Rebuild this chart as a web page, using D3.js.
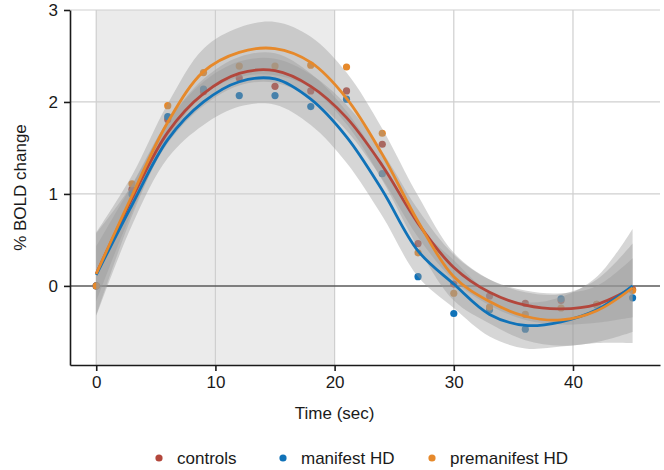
<!DOCTYPE html>
<html lang="en">
<head>
<meta charset="UTF-8">
<title>BOLD response</title>
<script src="https://d3js.org/d3.v7.min.js"></script>
<style>
  body { margin: 0; background: #fff; }
  svg { font-family: "Liberation Sans", Arial, sans-serif; }
</style>
</head>
<body>
<svg id="chart" width="664" height="470"></svg>
<script>
// time points (sec)
const times = [0, 3, 6, 9, 12, 15, 18, 21, 24, 27, 30, 33, 36, 39, 42, 45];

// observed group means
const controlsPts    = [0, 1.05, 1.81, 2.11, 2.26, 2.17, 2.12, 2.12, 1.54, 0.46, 0.02, -0.11, -0.19, -0.16, -0.20, -0.04];
const manifestPts    = [0, 1.00, 1.84, 2.14, 2.07, 2.07, 1.95, 2.03, 1.22, 0.10, -0.30, -0.26, -0.47, -0.14, -0.21, -0.13];
const premanifestPts = [0, 1.11, 1.96, 2.32, 2.39, 2.39, 2.40, 2.38, 1.66, 0.36, -0.08, -0.23, -0.31, -0.24, -0.20, -0.05];

// smoothed fits and their standard error
const controlsFit    = [0.13, 0.95, 1.67, 2.09, 2.31, 2.34, 2.17, 1.83, 1.31, 0.68, 0.20, -0.07, -0.21, -0.25, -0.20, -0.02];
const manifestFit    = [0.12, 0.88, 1.59, 2.00, 2.22, 2.25, 2.03, 1.62, 1.04, 0.38, 0.02, -0.31, -0.43, -0.39, -0.26, 0.00];
const premanifestFit = [0.13, 0.98, 1.78, 2.33, 2.54, 2.58, 2.43, 2.04, 1.43, 0.70, 0.10, -0.17, -0.33, -0.37, -0.27, -0.02];

const controlsSe    = [0.30, 0.15, 0.12, 0.13, 0.13, 0.13, 0.13, 0.14, 0.15, 0.15, 0.14, 0.14, 0.16, 0.17, 0.20, 0.32];
const manifestSe    = [0.45, 0.22, 0.20, 0.25, 0.27, 0.28, 0.28, 0.28, 0.28, 0.28, 0.26, 0.24, 0.25, 0.27, 0.36, 0.62];
const premanifestSe = [0.45, 0.22, 0.20, 0.25, 0.27, 0.29, 0.28, 0.28, 0.28, 0.28, 0.26, 0.24, 0.26, 0.28, 0.34, 0.48];

const groupNames = ['controls', 'manifest HD', 'premanifest HD'];
const groupColors = ['#b3473c', '#1072b8', '#e6892b'];

const xTicks = [0, 10, 20, 30, 40];
const yTicks = [0, 1, 2, 3];
const stimulus = [0, 20];

const groups = [
  { pts: controlsPts, fit: controlsFit, se: controlsSe },
  { pts: manifestPts, fit: manifestFit, se: manifestSe },
  { pts: premanifestPts, fit: premanifestFit, se: premanifestSe }
];

const svg = d3.select('#chart');
const plotLeft = 70, plotRight = 660, plotTop = 10, plotBottom = 365;

const x = d3.scaleLinear().domain([-2.2, 47.3]).range([plotLeft, plotRight]);
const y = d3.scaleLinear().domain([-0.86, 3]).range([plotBottom, plotTop]);

// stimulus block
svg.append('rect')
  .attr('x', x(stimulus[0]))
  .attr('y', plotTop)
  .attr('width', x(stimulus[1]) - x(stimulus[0]))
  .attr('height', plotBottom - plotTop)
  .attr('fill', '#ebebeb');

// grid
svg.append('g').selectAll('line')
  .data(xTicks)
  .join('line')
  .attr('x1', d => x(d)).attr('x2', d => x(d))
  .attr('y1', plotTop).attr('y2', plotBottom)
  .attr('stroke', '#cfcfcf').attr('stroke-width', 1.2);

svg.append('g').selectAll('line')
  .data(yTicks.filter(d => d !== 0))
  .join('line')
  .attr('x1', plotLeft).attr('x2', plotRight)
  .attr('y1', d => y(d)).attr('y2', d => y(d))
  .attr('stroke', '#cfcfcf').attr('stroke-width', 1.2);

svg.append('line')
  .attr('x1', plotLeft).attr('x2', plotRight)
  .attr('y1', y(0)).attr('y2', y(0))
  .attr('stroke', '#5a5a5a').attr('stroke-width', 1.5);

// points (drawn under the ribbons)
groups.forEach((g, i) => {
  svg.append('g').selectAll('circle')
    .data(g.pts)
    .join('circle')
    .attr('cx', (d, j) => x(times[j]))
    .attr('cy', d => y(d))
    .attr('r', 3.6)
    .attr('fill', groupColors[i]);
});

// confidence ribbons
const band = d3.area()
  .x(d => x(d.t))
  .y0(d => y(d.v - d.se))
  .y1(d => y(d.v + d.se))
  .curve(d3.curveCatmullRom);

groups.forEach(g => {
  const rows = times.map((t, j) => ({ t, v: g.fit[j], se: g.se[j] }));
  svg.append('path')
    .attr('d', band(rows))
    .attr('fill', '#999999')
    .attr('fill-opacity', 0.4);
});

// fitted lines
const line = d3.line()
  .x((d, j) => x(times[j]))
  .y(d => y(d))
  .curve(d3.curveCatmullRom);

groups.forEach((g, i) => {
  svg.append('path')
    .attr('d', line(g.fit))
    .attr('fill', 'none')
    .attr('stroke', groupColors[i])
    .attr('stroke-width', 2.8);
});

// axes
const xAxis = svg.append('g')
  .attr('transform', `translate(0,${plotBottom})`)
  .call(d3.axisBottom(x).tickValues(xTicks).tickFormat(d3.format('d'))
    .tickSize(6).tickSizeOuter(0).tickPadding(5));
const yAxis = svg.append('g')
  .attr('transform', `translate(${plotLeft},0)`)
  .call(d3.axisLeft(y).tickValues(yTicks).tickFormat(d3.format('d'))
    .tickSize(6).tickSizeOuter(0).tickPadding(6));

[xAxis, yAxis].forEach(a => {
  a.select('.domain').attr('stroke', '#1a1a1a').attr('stroke-width', 1.6);
  a.selectAll('.tick line').attr('stroke', '#1a1a1a').attr('stroke-width', 1.6);
  a.selectAll('.tick text')
    .attr('font-size', 17)
    .attr('fill', '#1a1a1a')
    .attr('font-family', '"Liberation Sans", Arial, sans-serif');
});

// axis titles
svg.append('text')
  .attr('x', x(20))
  .attr('y', 419)
  .attr('text-anchor', 'middle')
  .attr('font-size', 17)
  .attr('fill', '#1a1a1a')
  .text('Time (sec)');

svg.append('text')
  .attr('transform', `translate(26,${(plotTop + plotBottom) / 2}) rotate(-90)`)
  .attr('text-anchor', 'middle')
  .attr('font-size', 17)
  .attr('fill', '#1a1a1a')
  .text('% BOLD change');

// legend
const legendX = [159, 283, 432];
const legend = svg.append('g').selectAll('g')
  .data(groupNames)
  .join('g')
  .attr('transform', (d, i) => `translate(${legendX[i]},458)`);

legend.append('circle')
  .attr('r', 3.6)
  .attr('fill', (d, i) => groupColors[i]);

legend.append('text')
  .attr('x', 18)
  .attr('y', 6)
  .attr('font-size', 17)
  .attr('fill', '#1a1a1a')
  .text(d => d);
</script>
</body>
</html>
